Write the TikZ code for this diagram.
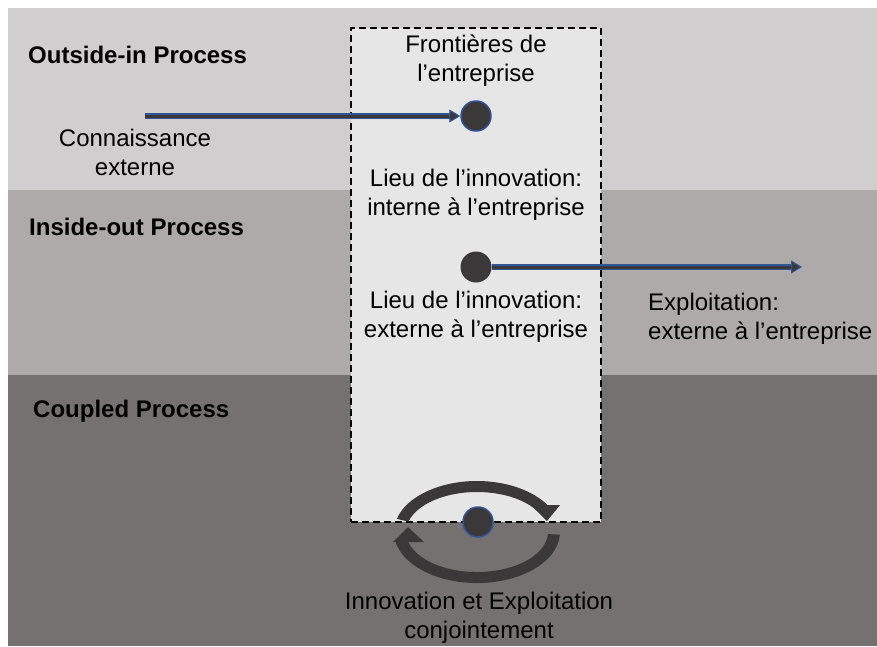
\documentclass[tikz,border=0pt]{standalone}
\usepackage{fontspec}
\setmainfont{Liberation Sans}
\usetikzlibrary{arrows.meta}
\definecolor{bandA}{HTML}{D0CECE}
\definecolor{bandB}{HTML}{AEAAAA}
\definecolor{bandC}{HTML}{767171}
\definecolor{boxfill}{HTML}{E7E6E6}
\definecolor{darkc}{HTML}{3A3838}
\definecolor{blueb}{HTML}{2F5597}
\begin{document}
\begin{tikzpicture}[x=1pt,y=1pt,
  txt/.style={font=\fontsize{24}{28.5}\selectfont, inner sep=0pt, align=center, anchor=base},
  txtl/.style={font=\fontsize{24}{28.5}\selectfont, inner sep=0pt, align=left, anchor=base west},
  ttl/.style={font=\fontsize{24}{28.5}\selectfont\bfseries, inner sep=0pt, anchor=base west},
  boundbox/.style={draw=black, line width=1.5pt, dash pattern=on 7pt off 4pt, fill=boxfill,
    minimum width=250pt, minimum height=494pt, inner sep=0pt},
  dot/.style={circle, fill=darkc, draw=blueb, line width=1.5pt, minimum size=30pt, inner sep=0pt},
  dotplain/.style={circle, fill=darkc, minimum size=31pt, inner sep=0pt},
  flowouter/.style={line width=6pt, draw=blueb,
    -{Triangle[length=11pt,width=13pt,fill=darkc,line width=1pt]}},
  flowinner/.style={line width=3pt, draw=darkc, shorten >=11pt},
  cyclebody/.style={fill=darkc}
]
\useasboundingbox (0,0) rectangle (877,-646);
\fill[white] (0,0) rectangle (877,-646);
\fill[bandA] (8,-8) rectangle (877,-190);
\fill[bandB] (8,-190) rectangle (877,-375);
\fill[bandC] (8,-375) rectangle (877,-646);

\node[boundbox] (boundary) at (476,-275) {};

% texts (multi-line nodes: base = last line's baseline)
\node[ttl] (tout) at (28,-63) {Outside-in Process};
\node[ttl] (tin) at (29,-235) {Inside-out Process};
\node[ttl] (tcoup) at (33,-417) {Coupled Process};
\node[txt] (front) at (476,-81) {Frontières de\\l’entreprise};
\node[txt] (conn) at (135,-175) {Connaissance\\externe};
\node[txt] (lieu1) at (476,-215) {Lieu de l’innovation:\\interne à l’entreprise};
\node[txt] (lieu2) at (476,-337) {Lieu de l’innovation:\\externe à l’entreprise};
\node[txtl] (expl) at (648,-339) {Exploitation:\\externe à l’entreprise};
\node[txt] (joint) at (479,-638) {Innovation et Exploitation\\conjointement};

% circles
\node[dot] (d1) at (476,-116) {};
\node[dotplain] (d2) at (476,-267) {};

% arrows
\coordinate (src) at (145,-116);
\coordinate (dst) at (802,-267);
\draw[flowouter] (src) -- (d1.west);
\draw[flowinner] (src) -- (d1.west);
\draw[flowouter] (d2.east) -- (dst);
\draw[flowinner] (d2.east) -- (dst);

% cycle arrows
\coordinate (cen) at (477,-532);
\fill[cyclebody] ([shift={(165:83pt and 51pt)}]cen) arc[start angle=165, end angle=30, x radius=83pt, y radius=51pt]
  -- ([shift={(30:71pt and 40pt)}]cen) arc[start angle=30, end angle=165, x radius=71pt, y radius=40pt] -- cycle;
\fill[cyclebody] (531,-505) -- (560,-505) -- (547,-521) -- cycle;
\fill[cyclebody] ([shift={(-3:83pt and 51pt)}]cen) arc[start angle=-3, end angle=-170, x radius=83pt, y radius=51pt]
  -- ([shift={(-170:71pt and 40pt)}]cen) arc[start angle=-170, end angle=-3, x radius=71pt, y radius=40pt] -- cycle;
\fill[cyclebody] (393,-542) -- (424,-542) -- (408,-527) -- cycle;

\node[dot] (d3) at (478,-522) {};
\end{tikzpicture}
\end{document}
